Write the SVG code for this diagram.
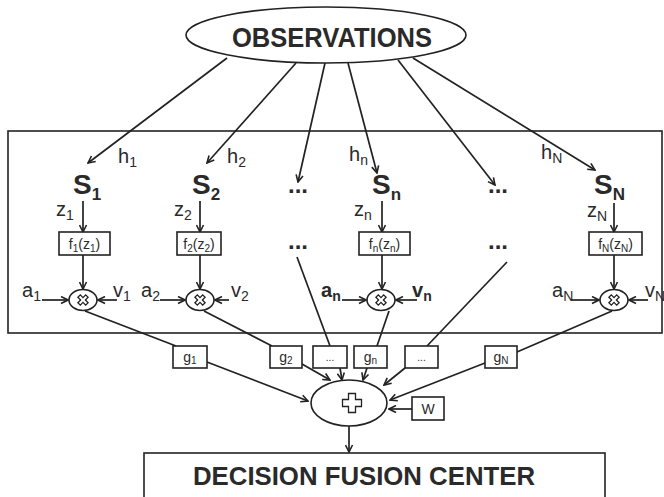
<svg xmlns="http://www.w3.org/2000/svg" width="664" height="497" viewBox="0 0 664 497">
<style>
.ln{stroke:#222;stroke-width:1.7;fill:none}
.box{stroke:#222;stroke-width:1.6;fill:#fff}
.t{font-family:"Liberation Sans",Arial,sans-serif;fill:#2a2a2a}
.lab{font-size:20px}
.sub{font-size:14px}
.S{font-size:28px;font-weight:bold}
.Ssub{font-size:17px;font-weight:bold}
.big{font-weight:bold}
.bx{font-size:14px}
.bxs{font-size:10px}
.dots{font-size:24px;font-weight:bold}
.sym{stroke:#222;stroke-width:1.3;fill:#fff}
</style>
<defs>
<marker id="ah" markerWidth="9" markerHeight="9" refX="8" refY="4.5" orient="auto" markerUnits="userSpaceOnUse">
<path d="M1,1 L8,4.5 L1,8" fill="none" stroke="#222" stroke-width="1.6"/>
</marker>
<path id="xsym" d="M-1.7,-5.5 L1.7,-5.5 L1.7,-1.7 L5.5,-1.7 L5.5,1.7 L1.7,1.7 L1.7,5.5 L-1.7,5.5 L-1.7,1.7 L-5.5,1.7 L-5.5,-1.7 L-1.7,-1.7 Z" transform="rotate(45)"/>
</defs>

<rect id="sensor-box" x="8" y="131" width="654" height="202" fill="none" stroke="#222" stroke-width="1.6"/>

<g id="connectors" class="ln">
<line x1="227" y1="58" x2="88" y2="163" marker-end="url(#ah)"/>
<line x1="296" y1="63" x2="207" y2="163" marker-end="url(#ah)"/>
<line x1="325" y1="63" x2="298" y2="182" marker-end="url(#ah)"/>
<line x1="348" y1="63" x2="377" y2="173" marker-end="url(#ah)"/>
<line x1="398" y1="60" x2="495" y2="185" marker-end="url(#ah)"/>
<line x1="413" y1="58" x2="595" y2="170" marker-end="url(#ah)"/>

<line x1="83" y1="201" x2="83" y2="232" marker-end="url(#ah)"/>
<line x1="200" y1="201" x2="200" y2="232" marker-end="url(#ah)"/>
<line x1="382" y1="201" x2="382" y2="232" marker-end="url(#ah)"/>
<line x1="614" y1="203" x2="614" y2="232" marker-end="url(#ah)"/>

<line x1="83" y1="255" x2="83" y2="289" marker-end="url(#ah)"/>
<line x1="200" y1="255" x2="200" y2="289" marker-end="url(#ah)"/>
<line x1="382" y1="255" x2="382" y2="289" marker-end="url(#ah)"/>
<line x1="614" y1="255" x2="614" y2="289" marker-end="url(#ah)"/>

<line x1="42" y1="300" x2="68" y2="300" marker-end="url(#ah)"/>
<line x1="117" y1="300" x2="98" y2="300" marker-end="url(#ah)"/>
<line x1="160" y1="300" x2="185" y2="300" marker-end="url(#ah)"/>
<line x1="229" y1="300" x2="215" y2="300" marker-end="url(#ah)"/>
<line x1="342" y1="300" x2="366" y2="300" marker-end="url(#ah)"/>
<line x1="417" y1="300" x2="396" y2="300" marker-end="url(#ah)"/>
<line x1="572" y1="300" x2="599" y2="300" marker-end="url(#ah)"/>
<line x1="648" y1="300" x2="629" y2="300" marker-end="url(#ah)"/>

<line x1="85" y1="311" x2="176" y2="346"/>
<line x1="204" y1="311" x2="272" y2="346"/>
<line x1="297" y1="257" x2="330" y2="346"/>
<line x1="389" y1="311" x2="377" y2="346"/>
<line x1="507" y1="262" x2="427" y2="346"/>
<line x1="612" y1="311" x2="517" y2="352"/>

<line x1="207" y1="362" x2="308" y2="401" marker-end="url(#ah)"/>
<line x1="302" y1="364" x2="330" y2="380" marker-end="url(#ah)"/>
<line x1="340" y1="368" x2="342" y2="380" marker-end="url(#ah)"/>
<line x1="367" y1="368" x2="363" y2="380" marker-end="url(#ah)"/>
<line x1="405" y1="368" x2="384" y2="385" marker-end="url(#ah)"/>
<line x1="485" y1="363" x2="390" y2="400" marker-end="url(#ah)"/>
<line x1="412" y1="409" x2="389" y2="409" marker-end="url(#ah)"/>
<line x1="349" y1="426" x2="349" y2="452" marker-end="url(#ah)"/>
</g>

<g id="observations">
<ellipse cx="326" cy="35" rx="140" ry="28" class="box"/>
<text x="232" y="47" class="t big" font-size="27" textLength="200" lengthAdjust="spacingAndGlyphs">OBSERVATIONS</text>
</g>

<g id="channel-labels" class="t lab">
<text x="118" y="163">h<tspan class="sub" dy="4">1</tspan></text>
<text x="227" y="163">h<tspan class="sub" dy="4">2</tspan></text>
<text x="349" y="161">h<tspan class="sub" dy="4">n</tspan></text>
<text x="541" y="159">h<tspan class="sub" dy="4">N</tspan></text>
</g>

<g id="sensor-1">
<text x="73" y="194" class="t S">S<tspan class="Ssub" dy="6">1</tspan></text>
<text x="56" y="216" class="t lab">z<tspan class="sub" dy="4">1</tspan></text>
<rect x="59" y="232" width="51" height="23" class="box"/>
<text x="84.5" y="249" text-anchor="middle" class="t bx">f<tspan class="bxs" dy="3">1</tspan><tspan dy="-3">(z</tspan><tspan class="bxs" dy="3">1</tspan><tspan dy="-3">)</tspan></text>
<ellipse cx="83" cy="300" rx="14" ry="10.5" class="box"/>
<use href="#xsym" x="83" y="300" class="sym"/>
<text x="22" y="297" class="t lab">a<tspan class="sub" dy="4">1</tspan></text>
<text x="113" y="297" class="t lab">v<tspan class="sub" dy="4">1</tspan></text>
</g>

<g id="sensor-2">
<text x="192" y="194" class="t S">S<tspan class="Ssub" dy="6">2</tspan></text>
<text x="174" y="216" class="t lab">z<tspan class="sub" dy="4">2</tspan></text>
<rect x="177" y="232" width="44" height="23" class="box"/>
<text x="199" y="249" text-anchor="middle" class="t bx">f<tspan class="bxs" dy="3">2</tspan><tspan dy="-3">(z</tspan><tspan class="bxs" dy="3">2</tspan><tspan dy="-3">)</tspan></text>
<ellipse cx="200" cy="300" rx="14" ry="10.5" class="box"/>
<use href="#xsym" x="200" y="300" class="sym"/>
<text x="141" y="297" class="t lab">a<tspan class="sub" dy="4">2</tspan></text>
<text x="231" y="297" class="t lab">v<tspan class="sub" dy="4">2</tspan></text>
</g>

<g id="ellipsis-col-1" class="t dots">
<text x="298" y="193" text-anchor="middle">...</text>
<text x="298" y="249" text-anchor="middle">...</text>
</g>

<g id="sensor-n">
<text x="372" y="194" class="t S">S<tspan class="Ssub" dy="6">n</tspan></text>
<text x="354" y="216" class="t lab">z<tspan class="sub" dy="4">n</tspan></text>
<rect x="359" y="232" width="51" height="23" class="box"/>
<text x="384.5" y="249" text-anchor="middle" class="t bx">f<tspan class="bxs" dy="3">n</tspan><tspan dy="-3">(z</tspan><tspan class="bxs" dy="3">n</tspan><tspan dy="-3">)</tspan></text>
<ellipse cx="381" cy="300" rx="14" ry="10.5" class="box"/>
<use href="#xsym" x="381" y="300" class="sym"/>
<text x="321" y="297" class="t lab" font-weight="bold">a<tspan class="sub" dy="4">n</tspan></text>
<text x="412" y="297" class="t lab" font-weight="bold">v<tspan class="sub" dy="4">n</tspan></text>
</g>

<g id="ellipsis-col-2" class="t dots">
<text x="498" y="193" text-anchor="middle">...</text>
<text x="498" y="249" text-anchor="middle">...</text>
</g>

<g id="sensor-N">
<text x="594" y="194" class="t S">S<tspan class="Ssub" dy="6">N</tspan></text>
<text x="587" y="217" class="t lab">z<tspan class="sub" dy="4">N</tspan></text>
<rect x="589" y="232" width="53" height="23" class="box"/>
<text x="615.5" y="249" text-anchor="middle" class="t bx">f<tspan class="bxs" dy="3">N</tspan><tspan dy="-3">(z</tspan><tspan class="bxs" dy="3">N</tspan><tspan dy="-3">)</tspan></text>
<ellipse cx="614" cy="300" rx="14" ry="10.5" class="box"/>
<use href="#xsym" x="614" y="300" class="sym"/>
<text x="552" y="297" class="t lab">a<tspan class="sub" dy="4">N</tspan></text>
<text x="645" y="297" class="t lab">v<tspan class="sub" dy="4">N</tspan></text>
</g>

<g id="gain-boxes">
<rect x="173" y="346" width="34" height="22" class="box"/>
<text x="190" y="362" text-anchor="middle" class="t bx">g<tspan class="bxs" dy="2">1</tspan></text>
<rect x="270" y="346" width="32" height="22" class="box"/>
<text x="286" y="362" text-anchor="middle" class="t bx">g<tspan class="bxs" dy="2">2</tspan></text>
<rect x="313" y="346" width="34" height="22" class="box"/>
<text x="330" y="361" text-anchor="middle" class="t bxs">...</text>
<rect x="354" y="346" width="33" height="22" class="box"/>
<text x="370.5" y="362" text-anchor="middle" class="t bx">g<tspan class="bxs" dy="2">n</tspan></text>
<rect x="405" y="346" width="33" height="22" class="box"/>
<text x="421.5" y="361" text-anchor="middle" class="t bxs">...</text>
<rect x="485" y="346" width="32" height="22" class="box"/>
<text x="501" y="362" text-anchor="middle" class="t bx">g<tspan class="bxs" dy="2">N</tspan></text>
</g>

<g id="sum">
<ellipse cx="349" cy="403" rx="38" ry="23" class="box"/>
<path d="M-3.5,-9.5 L3.5,-9.5 L3.5,-3.5 L9.5,-3.5 L9.5,3.5 L3.5,3.5 L3.5,9.5 L-3.5,9.5 L-3.5,3.5 L-9.5,3.5 L-9.5,-3.5 L-3.5,-3.5 Z" transform="translate(352,403)" class="sym"/>
</g>

<g id="w-box">
<rect x="412" y="397" width="32" height="23" class="box"/>
<text x="428" y="414" text-anchor="middle" class="t bx">W</text>
</g>

<g id="decision-fusion-center">
<rect x="144" y="453" width="461" height="50" class="box"/>
<text x="193" y="485" class="t big" font-size="25" textLength="342" lengthAdjust="spacingAndGlyphs">DECISION FUSION CENTER</text>
</g>
</svg>
